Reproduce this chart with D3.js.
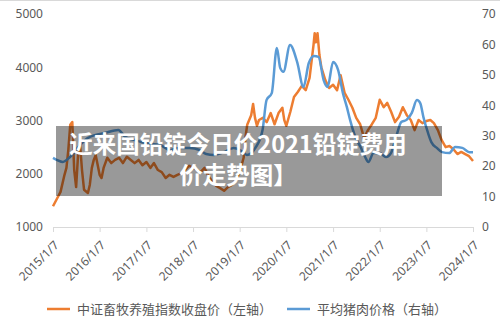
<!DOCTYPE html>
<html><head><meta charset="utf-8">
<script src="https://cdn.jsdelivr.net/npm/d3@7"></script>
<style>html,body{margin:0;padding:0;background:#fff;}svg{display:block;}</style>
</head><body>
<svg id="c" width="500" height="322"></svg>
<script>
const xTickLabels = ["2015/1/7","2016/1/7","2017/1/7","2018/1/7","2019/1/7","2020/1/7","2021/1/7","2022/1/7","2023/1/7","2024/1/7"];
const leftTicks = [1000,2000,3000,4000,5000];
const rightTicks = [0,10,20,30,40,50,60,70];
const seriesNames = ["中证畜牧养殖指数收盘价（左轴）","平均猪肉价格（右轴）"];
const titleLines = ["近来国铅锭今日价2021铅锭费用","价走势图】"];

const indexDates = ["2015-01-07","2015-02-07","2015-03-07","2015-04-07","2015-04-22","2015-05-07","2015-05-22","2015-06-07","2015-06-22","2015-07-07","2015-07-22","2015-08-07","2015-08-22","2015-09-07","2015-10-07","2015-10-22","2015-11-07","2015-11-22","2015-12-07",
"2016-01-07","2016-01-22","2016-02-07","2016-03-07","2016-04-07","2016-05-07","2016-06-07","2016-07-07","2016-08-07","2016-09-07","2016-10-07","2016-11-07","2016-12-07",
"2017-01-07","2017-02-07","2017-03-07","2017-04-07","2017-05-07","2017-06-07","2017-07-07","2017-08-07","2017-09-07","2017-10-07","2017-11-07","2017-12-07",
"2018-01-07","2018-02-07","2018-03-07","2018-04-07","2018-05-07","2018-06-07","2018-07-07","2018-08-07","2018-09-07","2018-10-07","2018-11-07","2018-12-07",
"2019-01-07","2019-02-07","2019-02-22","2019-03-07","2019-04-07","2019-04-22","2019-05-07","2019-05-22","2019-06-07","2019-07-07","2019-08-07","2019-09-07","2019-10-07","2019-11-07","2019-12-07","2019-12-22",
"2020-01-07","2020-02-07","2020-03-07","2020-04-07","2020-05-07","2020-06-07","2020-07-07","2020-08-07","2020-08-16","2020-08-25","2020-09-07","2020-09-22","2020-10-07","2020-11-07","2020-12-07",
"2021-01-07","2021-02-07","2021-03-07","2021-04-07","2021-05-07","2021-06-07","2021-07-07","2021-08-07","2021-09-07","2021-10-07","2021-11-07","2021-12-07",
"2022-01-07","2022-02-07","2022-03-07","2022-04-07","2022-05-07","2022-06-07","2022-07-07","2022-08-07","2022-09-07","2022-10-07","2022-11-07","2022-12-07",
"2023-01-07","2023-02-07","2023-03-07","2023-04-07","2023-05-07","2023-06-07","2023-07-07","2023-08-07","2023-09-07","2023-10-07","2023-11-07","2023-12-07","2024-01-07"];
const indexValues = [1390,1530,1660,1980,2110,2450,2920,2970,2070,1750,2350,2540,2070,1700,1640,1790,2110,2260,2350,
1980,1920,2110,2300,2200,2260,2300,2200,2320,2260,2200,2260,2160,
2220,2110,2200,2070,2030,1920,1980,1940,1980,2010,2070,2150,
2110,2070,2030,2110,1960,1850,1770,1730,1680,1750,1790,1880,
2030,2300,2700,2920,3100,3310,3050,2900,3010,3050,2970,3140,2930,3140,3240,3010,
2900,3160,3440,3540,3650,3570,3800,4420,4640,4470,4640,4230,4000,3760,3610,
3670,3570,3850,3520,3390,3240,3050,2930,2670,2820,2930,3050,
3390,3250,3330,3160,2970,3070,3250,3100,3010,2820,3010,2950,
2990,3010,2950,2820,2630,2500,2520,2460,2370,2410,2370,2330,2240];

const porkDates = ["2015-01-07","2015-03-25","2015-05-20","2015-08-05","2015-10-05","2015-11-30","2016-02-15","2016-06-01","2016-07-25","2016-10-10","2016-12-25","2017-04-25","2017-07-10","2017-09-25","2017-12-10",
"2018-03-01","2018-04-20","2018-06-20","2018-09-05","2018-11-20","2019-01-10","2019-03-05","2019-05-10","2019-07-05","2019-08-05","2019-09-15","2019-10-25","2019-11-20","2019-12-15",
"2020-02-05","2020-04-01","2020-05-20","2020-07-01","2020-08-10","2020-09-15","2020-10-25","2020-11-25","2021-01-07","2021-02-15","2021-03-25","2021-04-25","2021-05-20","2021-06-30","2021-08-10","2021-09-15","2021-10-10","2021-11-20",
"2022-01-07","2022-02-25","2022-04-05","2022-05-15","2022-06-25","2022-08-05","2022-09-15","2022-10-25","2022-11-20","2022-12-15",
"2023-01-20","2023-02-15","2023-03-30","2023-05-10","2023-07-05","2023-08-20","2023-10-15","2023-12-10","2024-01-07"];
const porkValues = [22.7,21.4,23.0,26.9,29.2,30.2,30.9,31.9,29.6,28.6,27.6,26.9,25.3,26.0,26.0,
25.3,24.0,23.7,24.6,26.0,25.3,23.7,26.0,31.9,41.7,44.0,58.8,52.3,51.0,
59.8,54.2,46.0,53.9,56.2,55.9,48.3,46.0,54.2,51.6,44.0,39.4,35.2,29.6,26.3,23.0,21.4,24.3,
24.3,23.0,24.3,29.6,34.5,35.2,37.5,41.7,40.7,36.1,
30.9,27.9,26.0,24.6,24.3,26.3,26.0,24.6,24.6];

const parse = d3.timeParse("%Y-%m-%d");
const tickDates = xTickLabels.map(s => d3.timeParse("%Y/%-m/%-d")(s));
const svg = d3.select("#c");
const font = "'Noto Sans','Noto Sans CJK SC',sans-serif";
const axisColor = "#595959";

const x = d3.scaleTime().domain([tickDates[0], tickDates[tickDates.length-1]]).range([53, 473]);
const yL = d3.scaleLinear().domain([1000, 5000]).range([227, 14]);
const yR = d3.scaleLinear().domain([0, 70]).range([227, 14]);

svg.append("line").attr("x1",0).attr("x2",500).attr("y1",0.5).attr("y2",0.5).attr("stroke","#d9d9d9");

// x axis
const xAxis = d3.axisBottom(x).tickValues(tickDates).tickSize(5).tickFormat((d,i)=>xTickLabels[i]);
const gx = svg.append("g").attr("transform","translate(0,227)").call(xAxis);
gx.select(".domain").attr("stroke","#d9d9d9");
gx.selectAll(".tick line").attr("stroke","#d9d9d9");
gx.selectAll(".tick text").attr("fill",axisColor).style("font-family",font).style("font-size","12px")
  .attr("text-anchor","end").attr("dy",null).attr("y",0)
  .attr("transform","translate(6,19) rotate(-45)");

// left axis
const gl = svg.append("g").attr("transform","translate(43,0)")
  .call(d3.axisLeft(yL).tickValues(leftTicks).tickSize(0).tickPadding(0).tickFormat(d3.format("d")));
gl.select(".domain").remove();
gl.selectAll(".tick text").attr("fill",axisColor).style("font-family",font).style("font-size","12px");

// right axis
const gr = svg.append("g").attr("transform","translate(482,0)")
  .call(d3.axisRight(yR).tickValues(rightTicks).tickSize(0).tickPadding(0).tickFormat(d3.format("d")));
gr.select(".domain").remove();
gr.selectAll(".tick text").attr("fill",axisColor).style("font-family",font).style("font-size","12px");

// lines
const idx = indexDates.map((d,i)=>({d:parse(d), v:indexValues[i]}));
const pork = porkDates.map((d,i)=>({d:parse(d), v:porkValues[i]}));
svg.append("path").datum(idx).attr("fill","none").attr("stroke","#ED7D31").attr("stroke-width",2.5)
  .attr("stroke-linejoin","round").attr("d", d3.line().x(p=>x(p.d)).y(p=>yL(p.v)));
svg.append("path").datum(pork).attr("fill","none").attr("stroke","#5B9BD5").attr("stroke-width",2.5)
  .attr("stroke-linejoin","round").attr("d", d3.line().curve(d3.curveMonotoneX).x(p=>x(p.d)).y(p=>yR(p.v)));

// legend
const lg = svg.append("g");
const legendColors = ["#ED7D31","#5B9BD5"];
const legendX = [47, 287];
seriesNames.forEach((n,i)=>{
  lg.append("line").attr("x1",legendX[i]).attr("x2",legendX[i]+23).attr("y1",309).attr("y2",309)
    .attr("stroke",legendColors[i]).attr("stroke-width",2.5);
  lg.append("text").attr("x",legendX[i]+30).attr("y",313.5).text(n).attr("fill",axisColor)
    .style("font-family","'Noto Sans CJK SC',sans-serif").style("font-size","13px");
});

// overlay banner
svg.append("rect").attr("x",56).attr("y",126).attr("width",386).attr("height",70).attr("fill","rgba(0,0,0,0.4)");
titleLines.forEach((t,i)=>{
  svg.append("text").attr("x",238).attr("y",153+i*31).attr("text-anchor","middle").text(t)
    .attr("fill","#fff").style("font-family","'Noto Sans CJK SC',sans-serif").style("font-weight","bold").style("font-size","23.5px");
});
</script>
</body></html>
